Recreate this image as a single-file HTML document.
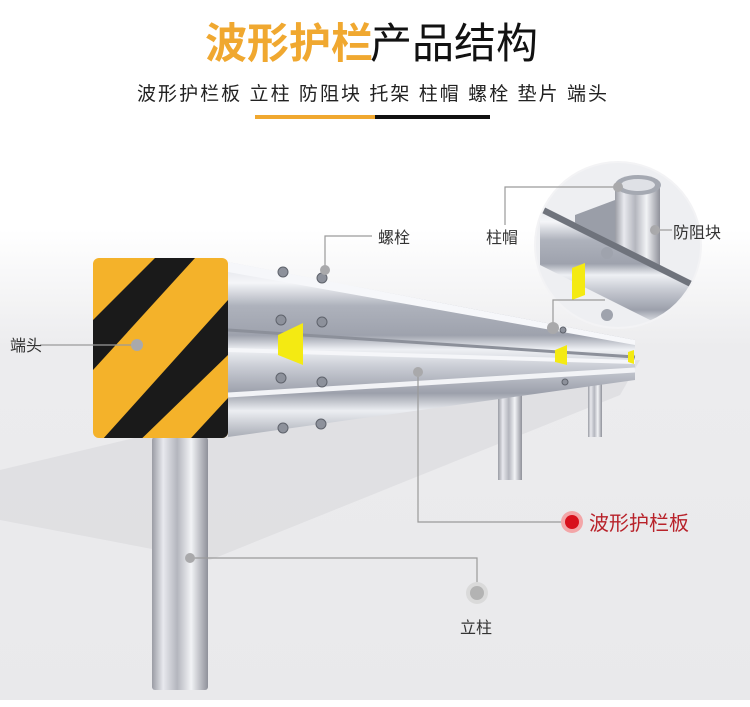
<!DOCTYPE html>
<html><head><meta charset="utf-8">
<style>
html,body{margin:0;padding:0;background:#fff;}
svg{display:block;}
text{font-family:"Liberation Sans","Noto Sans CJK SC",sans-serif;}
</style></head>
<body>
<svg width="750" height="707" viewBox="0 0 750 707" xmlns="http://www.w3.org/2000/svg">
<defs>
<linearGradient id="floor" x1="0" y1="0" x2="0" y2="1">
<stop offset="0" stop-color="#ffffff"/><stop offset="0.25" stop-color="#ececee"/><stop offset="1" stop-color="#e9e9eb"/>
</linearGradient>
<linearGradient id="post" x1="0" y1="0" x2="1" y2="0">
<stop offset="0" stop-color="#9a9ca4"/><stop offset="0.2" stop-color="#e8e9ee"/><stop offset="0.45" stop-color="#b4b6be"/><stop offset="0.7" stop-color="#f2f3f6"/><stop offset="1" stop-color="#8f919a"/>
</linearGradient>
<linearGradient id="rail" x1="0" y1="0" x2="0" y2="1">
<stop offset="0" stop-color="#dfe2e8"/><stop offset="0.12" stop-color="#f4f5f8"/><stop offset="0.25" stop-color="#aeb2bc"/><stop offset="0.42" stop-color="#9ea2ad"/><stop offset="0.5" stop-color="#eef0f4"/><stop offset="0.6" stop-color="#c9ccd4"/><stop offset="0.75" stop-color="#9ca0ab"/><stop offset="0.85" stop-color="#eceef2"/><stop offset="1" stop-color="#a9adb6"/>
</linearGradient>
<clipPath id="cap"><rect x="93" y="258" width="135" height="180" rx="6"/></clipPath>
<clipPath id="circ"><circle cx="618" cy="245" r="82"/></clipPath>
</defs>
<rect x="0" y="230" width="750" height="470" fill="url(#floor)"/>
<polygon points="0,520 0,470 420,370 640,360 620,395 210,560" fill="#d9d9dc" opacity="0.6"/>
<text x="205" y="58" font-size="42" font-weight="bold" fill="#f0a830">波形护栏</text>
<text x="370" y="58" font-size="42" fill="#111">产品结构</text>
<text x="137" y="100" font-size="19" fill="#222" textLength="470" lengthAdjust="spacing">波形护栏板 立柱 防阻块 托架 柱帽 螺栓 垫片 端头</text>
<rect x="255" y="115" width="120" height="4" fill="#f0a830"/>
<rect x="375" y="115" width="115" height="4" fill="#111"/>
<rect x="588" y="375" width="14" height="62" fill="url(#post)"/>
<rect x="498" y="385" width="24" height="95" fill="url(#post)"/>
<polygon points="228,262 635,340 635,380 228,437" fill="url(#rail)"/>
<polygon points="228,262 635,340 635,345 228,272" fill="#f6f7fa"/>
<line x1="228" y1="330" x2="635" y2="357" stroke="#8c909a" stroke-width="3"/>
<line x1="228" y1="350" x2="635" y2="362" stroke="#f5f6f9" stroke-width="4"/>
<line x1="228" y1="395" x2="635" y2="370" stroke="#f2f3f6" stroke-width="5"/>
<polygon points="278,335 303,323 303,365 278,355" fill="#f4ea12"/>
<polygon points="555,350 567,345 567,365 555,362" fill="#f4ea12"/>
<polygon points="628,352 634,350 634,364 628,362" fill="#f4ea12"/>
<g fill="#8d919b" stroke="#5f636c" stroke-width="1">
<circle cx="283" cy="272" r="5"/><circle cx="322" cy="278" r="5"/>
<circle cx="281" cy="320" r="5"/><circle cx="322" cy="322" r="5"/>
<circle cx="281" cy="378" r="5"/><circle cx="322" cy="382" r="5"/>
<circle cx="283" cy="428" r="5"/><circle cx="321" cy="424" r="5"/>
<circle cx="563" cy="330" r="3"/><circle cx="565" cy="382" r="3"/>
</g>
<rect x="152" y="437" width="56" height="253" rx="3" fill="url(#post)"/>
<g clip-path="url(#cap)">
<rect x="93" y="258" width="135" height="180" fill="#f4b22a"/>
<g fill="#1a1a1a">
<polygon points="93,320 155,258 195,258 93,370"/>
<polygon points="93,450 228,300 228,355 130,450"/>
<polygon points="180,450 228,398 228,450"/>
</g>
</g>
<circle cx="618" cy="245" r="84" fill="#f3f3f5"/>
<g clip-path="url(#circ)">
<rect x="530" y="160" width="180" height="170" fill="#eeeff2"/>
<rect x="615" y="185" width="45" height="80" fill="url(#post)"/>
<ellipse cx="638" cy="185" rx="23" ry="10" fill="#a5a9b2"/>
<ellipse cx="638" cy="185" rx="17" ry="6" fill="#dfe1e6"/>
<polygon points="575,215 615,200 615,250 575,240" fill="#9a9ea8"/>
<polygon points="540,205 700,285 700,345 540,265" fill="url(#rail)"/>
<polygon points="540,205 700,285 700,292 540,212" fill="#6f737c"/>
<polygon points="572,268 585,263 585,295 572,300" fill="#f4ea12"/>
<circle cx="607" cy="253" r="6" fill="#9fa3ad"/>
<circle cx="607" cy="315" r="6" fill="#9fa3ad"/>
</g>
<g stroke="#9a9a9a" stroke-width="1.2" fill="none">
<polyline points="325,270 325,236 372,236"/>
<polyline points="40,345 137,345"/>
<polyline points="505,225 505,187 618,187"/>
<polyline points="657,230 672,230"/>
<polyline points="553,328 553,300 605,300"/>
<polyline points="418,372 418,522 562,522"/>
<polyline points="190,558 477,558 477,583"/>
</g>
<g fill="#a9a9ab">
<circle cx="325" cy="270" r="5"/><circle cx="137" cy="345" r="6"/>
<circle cx="618" cy="187" r="5"/><circle cx="655" cy="230" r="5"/>
<circle cx="553" cy="328" r="6"/><circle cx="418" cy="372" r="5"/>
<circle cx="190" cy="558" r="5"/>
</g>
<circle cx="572" cy="522" r="11" fill="#f3a6a8"/>
<circle cx="572" cy="522" r="7" fill="#d8101c"/>
<circle cx="477" cy="593" r="11" fill="#dadada"/>
<circle cx="477" cy="593" r="7" fill="#b3b3b3"/>
<g font-size="16" fill="#333">
<text x="378" y="243">螺栓</text>
<text x="10" y="351">端头</text>
<text x="486" y="243">柱帽</text>
<text x="673" y="238">防阻块</text>
<text x="460" y="633">立柱</text>
</g>
<text x="589" y="530" font-size="20" fill="#b8222a">波形护栏板</text>
</svg>
</body></html>
